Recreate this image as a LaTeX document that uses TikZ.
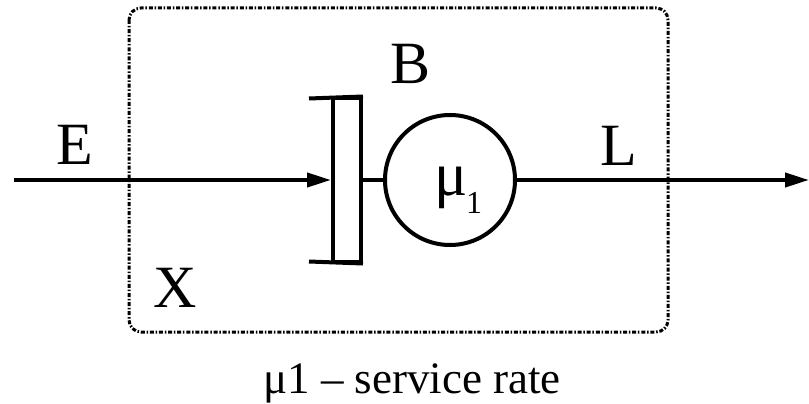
\documentclass[tikz,border=0pt]{standalone}
\usepackage{fontspec}
\setmainfont{Liberation Serif}
\usetikzlibrary{arrows.meta}
\begin{document}
\begin{tikzpicture}[x=1pt,y=-1pt,
  main/.style={line width=4pt},
  arr/.style={main,-{Triangle[length=24pt,width=14pt]}},
  lbl/.style={font=\fontsize{60}{60}\selectfont, inner sep=0pt},
  system/.style={line width=3pt, rounded corners=12pt, dash pattern=on 4pt off 1.8pt on 1.5pt off 1.8pt}]
\useasboundingbox (0,0) rectangle (809,404);
\draw[system] (129,8) rectangle (668,332);
\node[main, draw, minimum width=28pt, minimum height=163pt, inner sep=0pt] (buf) at (347,180) {};
\coordinate (bt) at (309,98.5);
\coordinate (bb) at (309,261.5);
\draw[main] (buf.north east) -- (bt);
\draw[main] (buf.south east) -- (bb);
\node[main, draw, circle, minimum size=130pt, inner sep=0pt] (mu) at (450,180) {};
\node[inner sep=0pt, anchor=base, font=\fontsize{62}{62}\selectfont] (mutxt) at (451,195) {μ};
\node[inner sep=0pt, anchor=base, font=\fontsize{32}{32}\selectfont] (one) at (474,213) {1};
\coordinate (src) at (14,180);
\coordinate (dst) at (809,180);
\draw[arr] (src) -- (buf.west);
\draw[main] (buf.east) -- (mu.west);
\draw[arr] (mu.east) -- (dst);
\node[lbl] (E) at (75,145) {E};
\node[lbl] (B) at (411,64) {B};
\node[lbl] (L) at (619,146) {L};
\node[lbl] (X) at (175,288) {X};
\node[inner sep=0pt, font=\fontsize{45}{45}\selectfont, anchor=base] (cap) at (412,393) {μ1 – service rate};
\end{tikzpicture}
\end{document}
